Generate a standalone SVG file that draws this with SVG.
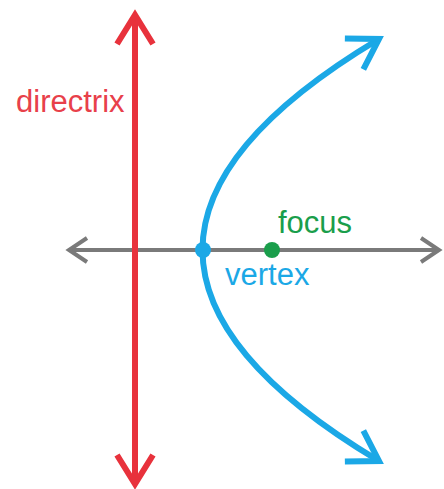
<svg xmlns="http://www.w3.org/2000/svg" width="444" height="489" viewBox="0 0 444 489">
  <style>
    text { font-family: "Liberation Sans", Arial, sans-serif; font-size: 31px; }
    .axis { stroke: #7a7a7a; stroke-width: 4; fill: none; }
    .directrix { stroke: #e8323c; stroke-width: 6; fill: none; }
    .parabola { stroke: #1ba8e6; stroke-width: 6; fill: none; }
  </style>
  <defs>
    <marker id="grayHead" markerUnits="userSpaceOnUse" viewBox="-25 -18 30 36" refX="0" refY="0" markerWidth="30" markerHeight="36" orient="auto-start-reverse">
      <path d="M -18 -12 L 0 0 L -18 12" fill="none" stroke="#7a7a7a" stroke-width="4" stroke-linejoin="miter"/>
    </marker>
    <marker id="redHead" markerUnits="userSpaceOnUse" viewBox="-36 -24 42 48" refX="0" refY="0" markerWidth="42" markerHeight="48" orient="auto-start-reverse">
      <path d="M -29 -18 L 0 0 L -29 18" fill="none" stroke="#e8323c" stroke-width="6" stroke-linejoin="miter"/>
    </marker>
    <marker id="blueHead" markerUnits="userSpaceOnUse" viewBox="-36 -24 42 48" refX="0" refY="0" markerWidth="42" markerHeight="48" orient="auto-start-reverse">
      <path d="M -29 -18 L 0 0 L -29 18" fill="none" stroke="#1ba8e6" stroke-width="6" stroke-linejoin="miter"/>
    </marker>
  </defs>

  <g id="connectors">
    <line id="axis" class="axis" x1="69" y1="250" x2="439" y2="250" marker-start="url(#grayHead)" marker-end="url(#grayHead)"/>
    <line id="directrix-line" class="directrix" x1="135" y1="15" x2="135" y2="484" marker-start="url(#redHead)" marker-end="url(#redHead)"/>
    <path id="parabola" class="parabola" d="M 379 39 Q 26 250 379 461" marker-start="url(#blueHead)" marker-end="url(#blueHead)"/>
  </g>

  <g id="directrix-label">
    <text x="16" y="112" fill="#e8404a">directrix</text>
  </g>

  <g id="vertex">
    <circle cx="203" cy="250" r="8" fill="#1ba8e6"/>
    <text x="225" y="285" fill="#1ba8e6">vertex</text>
  </g>

  <g id="focus">
    <circle cx="272" cy="250" r="8" fill="#1a9e4b"/>
    <text x="278" y="233" fill="#1a9e4b">focus</text>
  </g>
</svg>
